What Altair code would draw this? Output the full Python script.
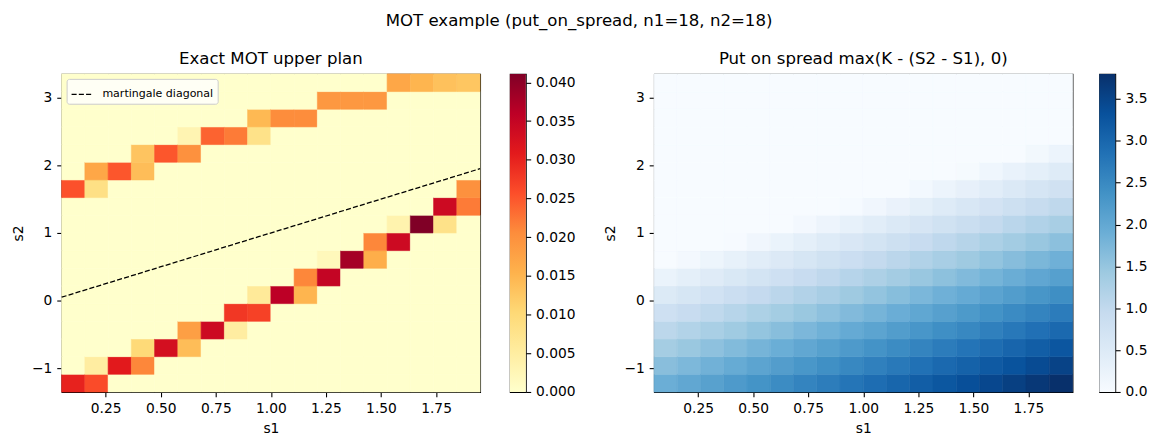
import altair as alt
import pandas as pd

# Discretised marginals (grid points of S1 and S2) and the put strike
S1_GRID = [0.050, 0.162, 0.274, 0.385, 0.497, 0.609, 0.721, 0.832, 0.944,
           1.056, 1.168, 1.279, 1.391, 1.503, 1.615, 1.726, 1.838, 1.950]
S2_GRID = [-1.350, -1.074, -0.797, -0.521, -0.244, 0.032, 0.309, 0.585, 0.862,
           1.138, 1.415, 1.691, 1.968, 2.244, 2.521, 2.797, 3.074, 3.350]
STRIKE = 0.5

# Non-zero cells of the upper MOT plan, one group per s2 level (bottom to top):
# index on s1, index on s2, mass
PLAN_S1_IDX = [0, 1,
               1, 2, 3,
               3, 4, 5,
               5, 6, 7,
               7, 8,
               8, 9, 10,
               10, 11,
               11, 12, 13,
               13, 14,
               14, 15, 16,
               16, 17,
               0, 1, 17,
               1, 2, 3,
               3, 4, 5,
               5, 6, 7, 8,
               8, 9, 10,
               11, 12, 13,
               14, 15, 16, 17]
PLAN_S2_IDX = [0, 0,
               1, 1, 1,
               2, 2, 2,
               3, 3, 3,
               4, 4,
               5, 5, 5,
               6, 6,
               7, 7, 7,
               8, 8,
               9, 9, 9,
               10, 10,
               11, 11, 11,
               12, 12, 12,
               13, 13, 13,
               14, 14, 14, 14,
               15, 15, 15,
               16, 16, 16,
               17, 17, 17, 17]
PLAN_MASS = [0.030, 0.026,
             0.005, 0.031, 0.021,
             0.010, 0.033, 0.014,
             0.018, 0.034, 0.005,
             0.028, 0.027,
             0.006, 0.036, 0.015,
             0.021, 0.035,
             0.002, 0.038, 0.016,
             0.021, 0.034,
             0.0035, 0.0411, 0.008,
             0.034, 0.022,
             0.0255, 0.0085, 0.020,
             0.017, 0.025, 0.014,
             0.013, 0.025, 0.020,
             0.003, 0.024, 0.022, 0.008,
             0.0145, 0.0205, 0.0205,
             0.019, 0.019, 0.019,
             0.017, 0.015, 0.0135, 0.0128]

X_TICKS = [0.25, 0.50, 0.75, 1.00, 1.25, 1.50, 1.75]
Y_TICKS = [-1, 0, 1, 2, 3]
PLAN_CBAR_TICKS = [0.0, 0.005, 0.010, 0.015, 0.020, 0.025, 0.030, 0.035, 0.040]
PAYOFF_CBAR_TICKS = [0.0, 0.5, 1.0, 1.5, 2.0, 2.5, 3.0, 3.5]

YLORRD = ["#ffffcc", "#ffeda0", "#fed976", "#feb24c", "#fd8d3c",
          "#fc4e2a", "#e31a1c", "#bd0026", "#800026"]
BLUES = ["#f7fbff", "#deebf7", "#c6dbef", "#9ecae1", "#6baed6",
         "#4292c6", "#2171b5", "#08519c", "#08306b"]

FONT = "DejaVu Sans"
MINUS = "replace(datum.label, '-', '\u2212')"

# ---- cell table --------------------------------------------------------
n1, n2 = len(S1_GRID), len(S2_GRID)
lo1, hi1 = S1_GRID[0], S1_GRID[-1]
lo2, hi2 = S2_GRID[0], S2_GRID[-1]
dx = (hi1 - lo1) / n1
dy = (hi2 - lo2) / n2
mass_at = {(i, j): m for i, j, m in zip(PLAN_S1_IDX, PLAN_S2_IDX, PLAN_MASS)}

rows = []
for i in range(n1):
    for j in range(n2):
        rows.append({
            "x0": lo1 + i * dx, "x1": lo1 + (i + 1) * dx,
            "y0": lo2 + j * dy, "y1": lo2 + (j + 1) * dy,
            "mass": mass_at.get((i, j), 0.0),
            "payoff": max(STRIKE - (S2_GRID[j] - S1_GRID[i]), 0.0),
        })
cells = pd.DataFrame(rows)
diag = pd.DataFrame({"s1": S1_GRID, "s2": S1_GRID,
                     "kind": ["martingale diagonal"] * n1})

W, H, CB_W = 421, 320, 16


def color_scale(colors, vmax):
    stops = [vmax * k / (len(colors) - 1) for k in range(len(colors))]
    return alt.Scale(domain=stops, range=colors, interpolate="rgb")


def heatmap(field, colors, vmax):
    xs = alt.Scale(domain=[lo1, hi1], nice=False, zero=False)
    ys = alt.Scale(domain=[lo2, hi2], nice=False, zero=False)
    return alt.Chart(cells).mark_rect(strokeWidth=0.6).encode(
        x=alt.X("x0:Q", scale=xs,
                axis=alt.Axis(title="s1", values=X_TICKS, format=".2f",
                              labelFlush=False)),
        x2="x1:Q",
        y=alt.Y("y0:Q", scale=ys,
                axis=alt.Axis(title="s2", values=Y_TICKS, format="d",
                              labelExpr=MINUS)),
        y2="y1:Q",
        fill=alt.Fill(f"{field}:Q", scale=color_scale(colors, vmax), legend=None),
        stroke=alt.Stroke(f"{field}:Q", scale=color_scale(colors, vmax), legend=None),
    )


def colorbar(colors, vmax, ticks, fmt):
    grad = alt.LinearGradient(
        gradient="linear", x1=0, x2=0, y1=1, y2=0,
        stops=[alt.GradientStop(color=c, offset=k / (len(colors) - 1))
               for k, c in enumerate(colors)])
    span = pd.DataFrame({"lo": [0.0], "hi": [vmax]})
    return alt.Chart(span).mark_rect(fill=grad).encode(
        y=alt.Y("lo:Q", scale=alt.Scale(domain=[0, vmax], nice=False, zero=False),
                axis=alt.Axis(orient="right", values=ticks, format=fmt, title=None)),
        y2="hi:Q",
        x=alt.value(0),
        x2=alt.value(CB_W),
    ).properties(width=CB_W, height=H)


plan_max = max(PLAN_MASS)
payoff_max = float(cells["payoff"].max())

diag_line = alt.Chart(diag).mark_line(color="black", strokeWidth=1.3).encode(
    x="s1:Q",
    y="s2:Q",
    strokeDash=alt.StrokeDash(
        "kind:N",
        scale=alt.Scale(domain=["martingale diagonal"], range=[[5.1, 2.2]]),
        legend=alt.Legend(orient="top-left", offset=5, title=None,
                          symbolType="stroke", symbolSize=441,
                          symbolStrokeColor="black", symbolStrokeWidth=1.3,
                          labelFontSize=11.1, labelFont=FONT, labelColor="black",
                          labelOffset=9, padding=4, cornerRadius=2.5,
                          fillColor="rgba(255,255,255,0.8)",
                          strokeColor="#cccccc")),
)

plan_panel = alt.layer(heatmap("mass", YLORRD, plan_max), diag_line).properties(
    width=W, height=H,
    title=alt.TitleParams("Exact MOT upper plan", frame="group", anchor="middle"),
)
payoff_panel = heatmap("payoff", BLUES, payoff_max).properties(
    width=W, height=H,
    title=alt.TitleParams("Put on spread max(K - (S2 - S1), 0)",
                          frame="group", anchor="middle"),
)

left = alt.hconcat(
    plan_panel, colorbar(YLORRD, plan_max, PLAN_CBAR_TICKS, ".3f"), spacing=25
).resolve_scale(fill="independent", stroke="independent",
                strokeDash="independent").resolve_legend(strokeDash="independent")
right = alt.hconcat(
    payoff_panel, colorbar(BLUES, payoff_max, PAYOFF_CBAR_TICKS, ".1f"), spacing=25
).resolve_scale(fill="independent", stroke="independent")

chart = alt.hconcat(
    left, right, spacing=26,
    title=alt.TitleParams("MOT example (put_on_spread, n1=18, n2=18)",
                          anchor="middle", offset=21),
).resolve_scale(
    fill="independent", stroke="independent", strokeDash="independent"
).resolve_legend(
    strokeDash="independent"
).properties(
    background="white",
    padding={"left": 10, "top": 11, "right": 10, "bottom": 10},
).configure_view(
    stroke="black", strokeWidth=1.1,
).configure_axis(
    grid=False, domain=False,
    labelFont=FONT, labelFontSize=13.9, labelColor="black",
    titleFont=FONT, titleFontSize=13.9, titleColor="black", titleFontWeight="normal",
    tickColor="black", tickSize=4.9, tickWidth=1.1, labelPadding=4.9,
    labelOverlap=False, titlePadding=6.5,
).configure_title(
    font=FONT, fontSize=16.7, fontWeight="normal", color="black", offset=6,
)

chart.save("out.html", embed_options={"renderer": "svg", "actions": False})
